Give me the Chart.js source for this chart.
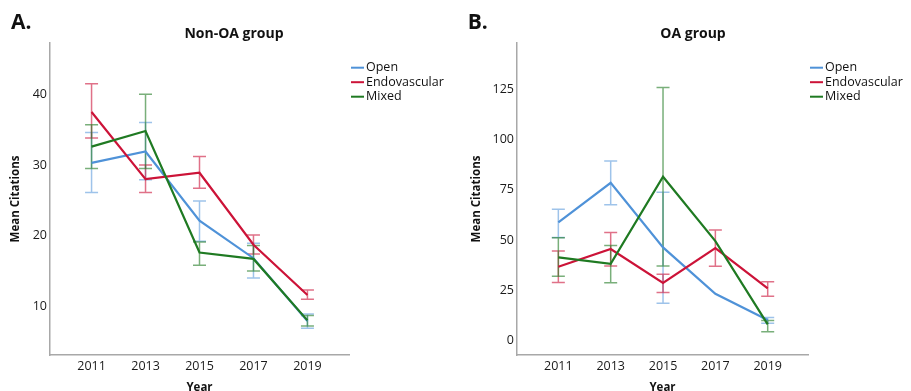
<!DOCTYPE html>
<html>
<head>
<meta charset="utf-8">
<script src="https://cdn.jsdelivr.net/npm/chart.js@4.4.1/dist/chart.umd.min.js"></script>
<style>
  html, body { margin: 0; padding: 0; background: #fff; width: 911px; height: 391px; overflow: hidden; position: relative; }
  canvas { position: absolute; top: 0; }
  #nonOa { left: 0; }
  #oa { left: 455px; }
</style>
</head>
<body>
<canvas id="nonOa" width="455" height="400"></canvas>
<canvas id="oa" width="456" height="400"></canvas>
<script>
// Publication years on the x axis
const years = ['2011', '2013', '2015', '2017', '2019'];
const seriesNames = ['Open', 'Endovascular', 'Mixed'];

// Non-OA group: mean citations with lower / upper error limits
const nonOaOpen      = [30.3, 31.9, 22.1, 16.8, 7.9];
const nonOaOpenLow   = [26.1, 27.9, 19.2, 14.0, 6.9];
const nonOaOpenHigh  = [34.6, 36.0, 24.9, 18.9, 8.9];
const nonOaEndo      = [37.5, 28.0, 28.9, 18.7, 11.6];
const nonOaEndoLow   = [33.8, 26.1, 26.7, 17.4, 11.0];
const nonOaEndoHigh  = [41.5, 30.0, 31.2, 20.1, 12.3];
const nonOaMixed     = [32.6, 34.8, 17.6, 16.7, 8.0];
const nonOaMixedLow  = [29.5, 29.5, 15.8, 15.0, 7.2];
const nonOaMixedHigh = [35.7, 40.0, 19.1, 18.6, 8.7];

// OA group: mean citations with lower / upper error limits
const oaOpen      = [58.8, 78.5, 46.4, 23.3, 10.3];
const oaOpenLow   = [51.3, 67.6, 18.6, null, 8.7];
const oaOpenHigh  = [65.4, 89.4, 73.8, null, 11.5];
const oaEndo      = [36.8, 45.6, 28.7, 46.0, 26.0];
const oaEndoLow   = [29.0, 37.2, 24.0, 37.0, 22.1];
const oaEndoHigh  = [44.6, 53.8, 33.1, 55.1, 29.3];
const oaMixed     = [41.4, 38.2, 81.5, 49.5, 8.1];
const oaMixedLow  = [32.1, 28.8, 37.1, null, 4.5];
const oaMixedHigh = [51.2, 47.3, 125.9, null, 10.0];

// Y tick values for each panel
const nonOaYTicks = [10, 20, 30, 40];
const oaYTicks = [0, 25, 50, 75, 100, 125];

const COLORS = ['#4f92d8', '#cc1338', '#1f7a22'];
const ERR_COLORS = ['rgba(79,146,216,0.55)', 'rgba(204,19,56,0.6)', 'rgba(31,122,34,0.6)'];
const FONT = '"Open Sans", "Liberation Sans", sans-serif';

// Vertical error bars with caps, drawn under the lines
const errorBars = {
  id: 'errorBars',
  beforeDatasetsDraw(chart) {
    const { ctx, scales: { x, y } } = chart;
    chart.data.datasets.forEach((ds, i) => {
      if (!chart.isDatasetVisible(i) || !ds.errorLow) return;
      ctx.save();
      ctx.strokeStyle = ds.errorColor;
      ctx.lineWidth = 1.5;
      ds.data.forEach((pt, j) => {
        const lo = ds.errorLow[j], hi = ds.errorHigh[j];
        if (lo == null || hi == null) return;
        const px = x.getPixelForValue(pt.x);
        const yl = y.getPixelForValue(lo);
        const yh = y.getPixelForValue(hi);
        ctx.beginPath();
        ctx.moveTo(px, yl); ctx.lineTo(px, yh);
        ctx.moveTo(px - 6.5, yl); ctx.lineTo(px + 6.5, yl);
        ctx.moveTo(px - 6.5, yh); ctx.lineTo(px + 6.5, yh);
        ctx.stroke();
      });
      ctx.restore();
    });
  }
};

// Panel letter, panel title and the line legend at the top right
const panelText = {
  id: 'panelText',
  afterDraw(chart, args, opts) {
    const { ctx, chartArea } = chart;
    ctx.save();
    ctx.fillStyle = '#111';
    ctx.textBaseline = 'middle';
    ctx.textAlign = 'left';
    ctx.font = 'bold 21px ' + FONT;
    ctx.fillText(opts.panel, opts.panelX, 23);
    ctx.textAlign = 'center';
    ctx.font = 'bold 14px ' + FONT;
    ctx.fillText(opts.title, opts.titleX, 34);
    ctx.textAlign = 'left';
    ctx.font = '12.5px ' + FONT;
    chart.data.datasets.forEach((ds, i) => {
      const yy = chartArea.top + 24.7 + i * 14.5;
      ctx.strokeStyle = ds.borderColor;
      ctx.lineWidth = 2;
      ctx.beginPath();
      ctx.moveTo(chartArea.right + 2, yy);
      ctx.lineTo(chartArea.right + 15, yy);
      ctx.stroke();
      ctx.fillText(ds.label, chartArea.right + 17, yy);
    });
    ctx.restore();
  }
};

function makeDataset(idx, values, low, high) {
  return {
    label: seriesNames[idx],
    data: years.map((_, i) => ({ x: i, y: values[i] })),
    errorLow: low,
    errorHigh: high,
    errorColor: ERR_COLORS[idx],
    borderColor: COLORS[idx],
    backgroundColor: COLORS[idx],
    borderWidth: 2.2,
    pointRadius: 0,
    tension: 0,
    order: 3 - idx
  };
}

function makeChart(canvasId, cfg) {
  return new Chart(document.getElementById(canvasId), {
    type: 'line',
    data: { datasets: cfg.datasets },
    plugins: [errorBars, panelText],
    options: {
      responsive: false,
      animation: false,
      devicePixelRatio: 1,
      layout: { padding: { left: 0, right: cfg.padRight, top: 43, bottom: 0 } },
      plugins: {
        legend: { display: false },
        tooltip: { enabled: false },
        title: { display: false },
        panelText: { panel: cfg.panel, panelX: cfg.panelX, title: cfg.title, titleX: cfg.titleX }
      },
      scales: {
        x: {
          type: 'linear',
          min: cfg.xMin,
          max: cfg.xMax,
          grid: { display: false, drawTicks: false },
          border: { display: true, color: '#a8a8a8', width: 1.5 },
          afterBuildTicks: (s) => { s.ticks = years.map((_, i) => ({ value: i })); },
          afterFit: (s) => { s.height = 45; },
          ticks: {
            padding: 4,
            color: '#1a1a1a',
            font: { family: FONT, size: 12.5 },
            callback: (v) => years[v]
          },
          title: {
            display: true,
            text: 'Year',
            color: '#111',
            font: { family: FONT, size: 11.5, weight: 'bold' },
            padding: { top: 0, bottom: 5 }
          }
        },
        y: {
          type: 'linear',
          min: cfg.yMin,
          max: cfg.yMax,
          grid: { display: false, drawTicks: false },
          border: { display: true, color: '#a8a8a8', width: 1.5 },
          afterBuildTicks: (s) => { s.ticks = cfg.yTicks.map((v) => ({ value: v })); },
          afterFit: (s) => { s.width = cfg.yWidth; },
          ticks: {
            padding: 3,
            color: '#1a1a1a',
            font: { family: FONT, size: 12.5 }
          },
          title: {
            display: true,
            text: 'Mean Citations',
            color: '#111',
            font: { family: FONT, size: 11.5, weight: 'bold' },
            padding: { top: cfg.yTitlePad, bottom: 0 }
          }
        }
      }
    }
  });
}

makeChart('nonOa', {
  datasets: [
    makeDataset(0, nonOaOpen, nonOaOpenLow, nonOaOpenHigh),
    makeDataset(1, nonOaEndo, nonOaEndoLow, nonOaEndoHigh),
    makeDataset(2, nonOaMixed, nonOaMixedLow, nonOaMixedHigh)
  ],
  panel: 'A.', panelX: 11, title: 'Non-OA group', titleX: 234,
  padRight: 106, yWidth: 50, yTitlePad: 9,
  xMin: -0.77, xMax: 4.77, yMin: 3.1, yMax: 47.26, yTicks: nonOaYTicks
});

makeChart('oa', {
  datasets: [
    makeDataset(0, oaOpen, oaOpenLow, oaOpenHigh),
    makeDataset(1, oaEndo, oaEndoLow, oaEndoHigh),
    makeDataset(2, oaMixed, oaMixedLow, oaMixedHigh)
  ],
  panel: 'B.', panelX: 12.7, title: 'OA group', titleX: 238,
  padRight: 103, yWidth: 62, yTitlePad: 15,
  xMin: -0.79, xMax: 4.77, yMin: -7.1, yMax: 148, yTicks: oaYTicks
});
</script>
</body>
</html>
